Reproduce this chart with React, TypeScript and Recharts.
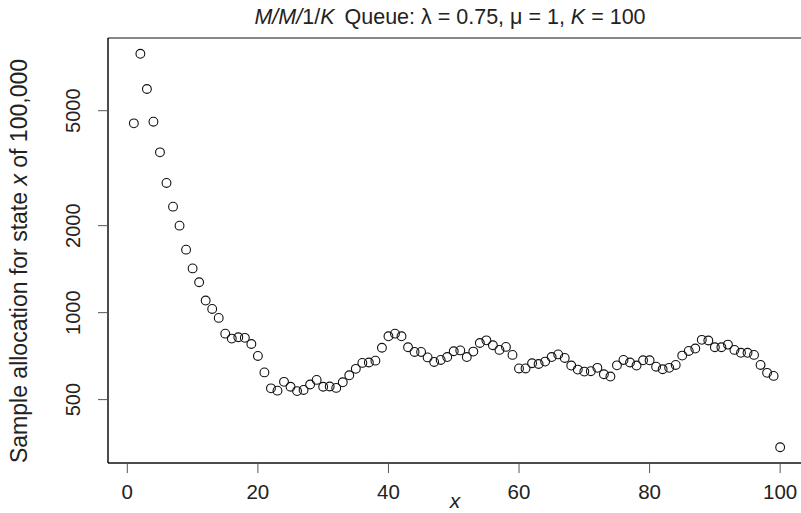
import {
  ScatterChart,
  Scatter,
  XAxis,
  YAxis,
  ReferenceArea,
} from "recharts";

const states = [
  1, 2, 3, 4, 5, 6, 7, 8, 9, 10, 11, 12, 13, 14, 15, 16, 17, 18, 19, 20,
  21, 22, 23, 24, 25, 26, 27, 28, 29, 30, 31, 32, 33, 34, 35, 36, 37, 38, 39, 40,
  41, 42, 43, 44, 45, 46, 47, 48, 49, 50, 51, 52, 53, 54, 55, 56, 57, 58, 59, 60,
  61, 62, 63, 64, 65, 66, 67, 68, 69, 70, 71, 72, 73, 74, 75, 76, 77, 78, 79, 80,
  81, 82, 83, 84, 85, 86, 87, 88, 89, 90, 91, 92, 93, 94, 95, 96, 97, 98, 99, 100,
];

const allocation = [
  4520, 7870, 5945, 4580, 3587, 2811, 2327, 2000, 1652, 1423,
  1274, 1101, 1030, 959, 846, 813, 822, 818, 779, 708,
  621, 547, 537, 576, 554, 535, 540, 564, 585, 554,
  555, 549, 574, 607, 639, 670, 672, 682, 756, 828,
  846, 828, 759, 731, 731, 700, 675, 686, 702, 735,
  740, 702, 733, 785, 802, 771, 743, 761, 714, 641,
  641, 668, 664, 677, 702, 717, 697, 656, 635, 625,
  627, 644, 612, 601, 657, 686, 672, 656, 684, 684,
  650, 637, 644, 659, 710, 737, 751, 805, 801, 759,
  759, 775, 743, 726, 726, 714, 659, 619, 604, 342,
];

const xTicks = [0, 20, 40, 60, 80, 100];
const yTicks = [500, 1000, 2000, 5000];

// R-style axis range: data range padded by 4% (log scale on y)
const xDomain: [number, number] = [-2.96, 103.96];
const yDomain: [number, number] = [301.7, 8925];

const data = states.map((s, i) => ({ x: s, y: allocation[i] }));

const FONT = "'Liberation Sans', Arial, Helvetica, sans-serif";

function XTick({ x, y, payload }: any) {
  return (
    <text x={x} y={y + 24} textAnchor="middle" fontSize={20.5} fontFamily={FONT} fill="#222">
      {payload.value}
    </text>
  );
}

function YTick({ x, y, payload }: any) {
  return (
    <text
      transform={`translate(${x - 16},${y}) rotate(-90)`}
      textAnchor="middle"
      fontSize={20}
      fontFamily={FONT}
      fill="#222"
    >
      {payload.value}
    </text>
  );
}

function OpenCircle({ cx, cy }: any) {
  if (cx == null || cy == null) return null;
  return <circle cx={cx} cy={cy} r={4.4} fill="none" stroke="#111" strokeWidth={1.1} />;
}

export default function App() {
  return (
    <div style={{ position: "absolute", left: 0, top: 0, width: 801, height: 513, overflow: "hidden", background: "#fff" }}>
      <ScatterChart width={815} height={513} margin={{ top: 38, right: 9, left: 0, bottom: 0 }}>
        <XAxis
          type="number"
          dataKey="x"
          domain={xDomain}
          ticks={xTicks}
          allowDataOverflow
          height={50}
          tickSize={10}
          tick={<XTick />}
          axisLine={{ stroke: "#111" }}
          tickLine={{ stroke: "#555" }}
        />
        <YAxis
          type="number"
          dataKey="y"
          scale="log"
          domain={yDomain}
          ticks={yTicks}
          allowDataOverflow
          width={108}
          tickSize={10}
          tick={<YTick />}
          axisLine={{ stroke: "#111" }}
          tickLine={{ stroke: "#555" }}
        />
        <ReferenceArea
          x1={xDomain[0]}
          x2={xDomain[1]}
          y1={yDomain[0]}
          y2={yDomain[1]}
          fill="none"
          fillOpacity={0}
          stroke="#111"
          strokeWidth={1}
        />
        <Scatter data={data} shape={<OpenCircle />} isAnimationActive={false} />
        <text x={450} y={24} textAnchor="middle" fontSize={21.5} fontFamily={FONT} fill="#222">
          <tspan fontStyle="italic">M/M/</tspan>1/<tspan fontStyle="italic">K</tspan>
          <tspan dx={10}>{"Queue: λ = 0.75, μ = 1, "}</tspan>
          <tspan fontStyle="italic">K</tspan>{" = 100"}
        </text>
        <text
          transform="translate(27,261) rotate(-90)"
          textAnchor="middle"
          fontSize={23}
          fontFamily={FONT}
          fill="#222"
        >
          {"Sample allocation for state "}
          <tspan fontStyle="italic">x</tspan>
          {" of 100,000"}
        </text>
        <text x={455} y={508} textAnchor="middle" fontSize={21} fontStyle="italic" fontFamily={FONT} fill="#222">
          x
        </text>
      </ScatterChart>
    </div>
  );
}
